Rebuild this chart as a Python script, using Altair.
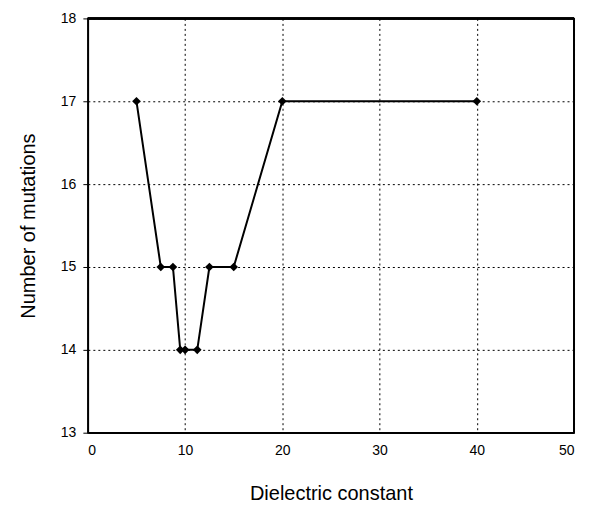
import altair as alt
import pandas as pd

dielectric = [5, 7.5, 8.75, 9.5, 10, 11.25, 12.5, 15, 20, 40]
mutations = [17, 15, 15, 14, 14, 14, 15, 15, 17, 17]

df = pd.DataFrame({"x": dielectric, "y": mutations})

base = alt.Chart(df).encode(
    x=alt.X("x:Q", scale=alt.Scale(domain=[0, 50], nice=False),
            axis=alt.Axis(title="Dielectric constant", values=[0, 10, 20, 30, 40, 50],
                          grid=True, gridColor="black", gridDash=[2, 3], gridWidth=1, gridOpacity=1,
                          domain=True, domainColor="black", domainWidth=1.5,
                          ticks=False, labelPadding=11,
                          labelFont="Liberation Sans", labelFontSize=14, labelColor="black",
                          titleFont="Liberation Sans", titleFontSize=20, titleFontWeight="normal",
                          titleColor="black", titlePadding=26)),
    y=alt.Y("y:Q", scale=alt.Scale(domain=[13, 18], nice=False, zero=False),
            axis=alt.Axis(title="Number of mutations", values=[13, 14, 15, 16, 17, 18],
                          grid=True, gridColor="black", gridDash=[2, 3], gridWidth=1, gridOpacity=1,
                          domain=True, domainColor="black", domainWidth=1.5,
                          ticks=True, tickSize=5, tickColor="black", labelPadding=7,
                          labelFont="Liberation Sans", labelFontSize=14, labelColor="black",
                          titleFont="Liberation Sans", titleFontSize=20, titleFontWeight="normal",
                          titleColor="black", titlePadding=22)),
)

line = base.mark_line(color="black", strokeWidth=2)
pts = base.mark_point(shape="diamond", filled=True, color="black", size=75, opacity=1)

# frame on the top and right sides
top = alt.Chart(df).mark_rule(color="black", strokeWidth=1.5).encode(
    x=alt.value(0), x2=alt.value(487), y=alt.value(0))
right = alt.Chart(df).mark_rule(color="black", strokeWidth=1.5).encode(
    x=alt.value(487), y=alt.value(0), y2=alt.value(415))

chart = (line + pts + top + right).properties(
    width=487, height=415,
    autosize=alt.AutoSizeParams(type="none"),
    padding={"left": 80, "top": 10, "right": 10, "bottom": 80},
    background="white",
).configure_view(stroke="black", strokeWidth=1.5)

chart.save("out.html", embed_options={"renderer": "svg", "actions": False})
